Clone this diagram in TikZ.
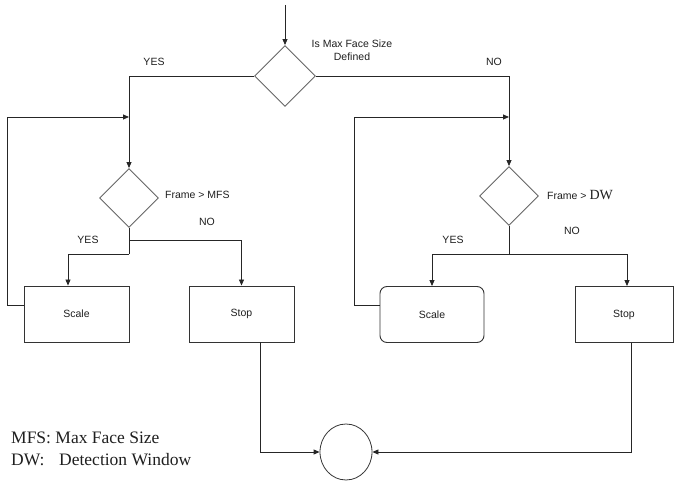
\documentclass[tikz,border=0pt]{standalone}
\usepackage{fontspec}
\setmainfont{Liberation Serif}
\setsansfont{Liberation Sans}
\usetikzlibrary{shapes.geometric,arrows.meta}
\begin{document}
\begin{tikzpicture}[x=1pt,y=-1pt,
  lbl/.style={font=\sffamily\fontsize{10.5}{12.5}\selectfont, text=black!88, inner sep=0pt},
  dec/.style={diamond, draw=black!60, line width=0.9pt, inner sep=0pt, minimum width=#1, minimum height=#1},
  boxx/.style={rectangle, draw=black!80, line width=0.9pt, minimum width=105pt, minimum height=56pt, font=\sffamily\fontsize{10.5}{12.5}\selectfont, text=black!88},
  conn/.style={draw=black!85, line width=0.8pt},
  arr/.style={conn, -{Triangle[length=6pt,width=5pt]}}
]
\useasboundingbox (0,0) rectangle (675,481);

% decisions
\node[dec=61pt] (d1) at (285,76) {};
\node[dec=59pt] (d2) at (129,198) {};
\node[dec=59pt] (d3) at (509,196) {};

% boxes
\node[boxx] (s1) at (76.5,314) {Scale};
\node[boxx] (t1) at (241.5,314) {Stop};
\node[boxx, rounded corners=7pt, minimum width=104pt] (s2) at (432,314.5) {Scale};
\node[boxx, minimum width=98pt] (t2) at (624,314.5) {Stop};
\node[ellipse, draw=black!80, line width=0.8pt, minimum width=52pt, minimum height=56pt, inner sep=0pt] (c) at (346,452) {};

% coordinates
\coordinate (top) at (285,5);
\coordinate (jL) at (129,117);
\coordinate (jR) at (509,117);
\coordinate (j2a) at (129,240);
\coordinate (j2b) at (129,254);
\coordinate (j3) at (509,254);

% connectors
\draw[arr] (top) -- (d1.north);
\draw[arr] (d1.west) -| (d2.north);
\draw[arr] (d1.east) -| (d3.north);
\draw[arr] ([yshift=9pt]s1.west) -- ++(-16,0) |- (jL);
\draw[arr] ([yshift=9pt]s2.west) -- ++(-25,0) |- (jR);
\draw[conn] (d2.south) -- (j2b);
\draw[arr] (j2b) -| ([xshift=-8.5pt]s1.north);
\draw[arr] (j2a) -| (t1.north);
\draw[conn] (d3.south) -- (j3);
\draw[arr] (j3) -| (s2.north);
\draw[arr] (j3) -| ([xshift=3pt]t2.north);
\draw[arr] ([xshift=18.5pt]t1.south) |- (c.west);
\draw[arr] ([xshift=7pt]t2.south) |- (c.east);

% labels
\node[lbl, align=center] (q1) at (352,50) {Is Max Face Size\\Defined};
\node[lbl] (y1) at (154,62) {YES};
\node[lbl] (n1) at (494,62) {NO};
\node[lbl, anchor=west] (q2) at (165,195) {Frame > MFS};
\node[lbl] (n2) at (207,222) {NO};
\node[lbl] (y2) at (88,240) {YES};
\node[lbl, anchor=west] (q3) at (547,195) {Frame > {\rmfamily\fontsize{14}{16}\selectfont DW}};
\node[lbl] (n3) at (572,231) {NO};
\node[lbl] (y3) at (453,240) {YES};

% legend
\node[anchor=base west, inner sep=0pt, font=\rmfamily\fontsize{17.5}{22}\selectfont, text=black!88] (leg1) at (11,443) {MFS: Max Face Size};
\node[anchor=base west, inner sep=0pt, font=\rmfamily\fontsize{17.5}{22}\selectfont, text=black!88] (leg2) at (11,465) {\makebox[48pt][l]{DW:}Detection Window};
\end{tikzpicture}
\end{document}
